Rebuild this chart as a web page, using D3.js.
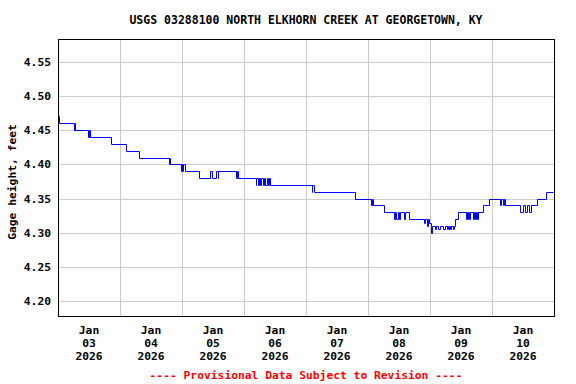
<!DOCTYPE html>
<html>
<head>
<meta charset="utf-8">
<script src="https://cdn.jsdelivr.net/npm/d3@7"></script>
<style>
  body { margin: 0; background: #fff; }
  svg { display: block; }
  text { font-family: "DejaVu Sans Mono", "Liberation Mono", monospace; font-weight: bold; }
</style>
</head>
<body>
<div id="chart"></div>
<script>
// gage height readings (step changes)
var stamps = [
  "2026-01-03 00:00", "2026-01-03 00:30", "2026-01-03 06:15", "2026-01-03 06:30", "2026-01-03 06:45",
  "2026-01-03 11:30", "2026-01-03 12:00", "2026-01-03 12:15", "2026-01-03 20:30", "2026-01-04 02:30",
  "2026-01-04 07:15", "2026-01-04 19:00", "2026-01-04 19:15", "2026-01-04 19:30", "2026-01-04 23:30",
  "2026-01-04 23:45", "2026-01-05 00:00", "2026-01-05 00:30", "2026-01-05 01:15", "2026-01-05 06:45",
  "2026-01-05 11:00", "2026-01-05 11:30", "2026-01-05 13:15", "2026-01-05 13:45", "2026-01-05 14:00",
  "2026-01-05 21:00", "2026-01-05 21:15", "2026-01-05 21:45", "2026-01-06 04:30", "2026-01-06 04:45",
  "2026-01-06 05:15", "2026-01-06 05:45", "2026-01-06 06:15", "2026-01-06 06:45", "2026-01-06 07:15",
  "2026-01-06 07:45", "2026-01-06 08:15", "2026-01-06 08:45", "2026-01-06 09:15", "2026-01-06 09:30",
  "2026-01-06 10:00", "2026-01-07 02:15", "2026-01-07 02:30", "2026-01-07 03:00", "2026-01-07 19:00",
  "2026-01-08 01:15", "2026-01-08 01:30", "2026-01-08 01:45", "2026-01-08 06:00", "2026-01-08 10:00",
  "2026-01-08 10:30", "2026-01-08 11:00", "2026-01-08 11:30", "2026-01-08 12:00", "2026-01-08 12:30",
  "2026-01-08 14:00", "2026-01-08 14:30", "2026-01-08 16:00", "2026-01-08 21:45", "2026-01-08 22:15",
  "2026-01-08 22:45", "2026-01-08 23:15", "2026-01-08 23:30", "2026-01-09 00:15", "2026-01-09 00:30",
  "2026-01-09 00:45", "2026-01-09 01:45", "2026-01-09 02:30", "2026-01-09 03:15", "2026-01-09 04:00",
  "2026-01-09 05:00", "2026-01-09 05:45", "2026-01-09 06:30", "2026-01-09 07:00", "2026-01-09 07:15",
  "2026-01-09 07:45", "2026-01-09 08:00", "2026-01-09 08:15", "2026-01-09 08:45", "2026-01-09 09:15",
  "2026-01-09 09:30", "2026-01-09 10:45", "2026-01-09 13:45", "2026-01-09 14:00", "2026-01-09 14:15",
  "2026-01-09 14:45", "2026-01-09 15:00", "2026-01-09 15:30", "2026-01-09 16:30", "2026-01-09 16:45",
  "2026-01-09 17:00", "2026-01-09 17:30", "2026-01-09 17:45", "2026-01-09 18:15", "2026-01-09 18:30",
  "2026-01-09 18:45", "2026-01-09 20:30", "2026-01-09 22:45", "2026-01-10 03:00", "2026-01-10 03:30",
  "2026-01-10 04:15", "2026-01-10 04:30", "2026-01-10 05:00", "2026-01-10 11:00", "2026-01-10 12:00",
  "2026-01-10 12:45", "2026-01-10 13:30", "2026-01-10 14:15", "2026-01-10 15:00", "2026-01-10 17:15",
  "2026-01-10 21:00", "2026-01-10 23:45"
];
var gage = [
  4.47, 4.46, 4.45, 4.46, 4.45,
  4.44, 4.45, 4.44, 4.43, 4.42,
  4.41, 4.40, 4.41, 4.40, 4.39,
  4.40, 4.39, 4.40, 4.39, 4.38,
  4.39, 4.38, 4.39, 4.38, 4.39,
  4.38, 4.39, 4.38, 4.37, 4.38,
  4.37, 4.38, 4.37, 4.38, 4.37,
  4.38, 4.37, 4.38, 4.37, 4.38,
  4.37, 4.36, 4.37, 4.36, 4.35,
  4.34, 4.35, 4.34, 4.33, 4.32,
  4.33, 4.32, 4.33, 4.32, 4.33,
  4.32, 4.33, 4.32, 4.315, 4.32,
  4.31, 4.32, 4.315, 4.31, 4.30,
  4.31, 4.305, 4.31, 4.305, 4.31,
  4.305, 4.31, 4.305, 4.31, 4.305,
  4.31, 4.305, 4.31, 4.305, 4.31,
  4.32, 4.33, 4.32, 4.33, 4.32,
  4.33, 4.32, 4.33, 4.32, 4.33,
  4.32, 4.33, 4.32, 4.33, 4.32,
  4.33, 4.34, 4.35, 4.34, 4.35,
  4.34, 4.35, 4.34, 4.33, 4.34,
  4.33, 4.34, 4.33, 4.34, 4.35,
  4.36, 4.36
];

var yTicks = [4.20, 4.25, 4.30, 4.35, 4.40, 4.45, 4.50, 4.55];
var dayLabels = ["03", "04", "05", "06", "07", "08", "09", "10"];
var monthLabel = "Jan",
    yearLabel = "2026";
var title = "USGS 03288100 NORTH ELKHORN CREEK AT GEORGETOWN, KY",
    yTitle = "Gage height, feet",
    footer = "---- Provisional Data Subject to Revision ----";

var width = 576, height = 384,
    plotLeft = 58, plotRight = 554, plotTop = 39, plotBottom = 316;

var parse = d3.timeParse("%Y-%m-%d %H:%M");
var data = stamps.map(function(s, i) { return {t: parse(s), v: gage[i]}; });

var t0 = parse("2026-01-03 00:00"),
    t1 = parse("2026-01-11 00:00");

var xScale = d3.scaleTime().domain([t0, t1]).range([plotLeft, plotRight]),
    yScale = d3.scaleLinear().domain([4.1785, 4.5832]).range([plotBottom, plotTop]);

var svg = d3.select("#chart").append("svg")
    .attr("width", width)
    .attr("height", height);

// snap to pixel centres so 1px lines stay sharp
var crisp = function(v) { return Math.round(v) + 0.5; };

// grid
var days = d3.timeDay.range(d3.timeDay.offset(t0, 1), t1);
svg.append("g").selectAll("line")
  .data(days)
  .enter().append("line")
  .attr("x1", function(d) { return crisp(xScale(d)); })
  .attr("x2", function(d) { return crisp(xScale(d)); })
  .attr("y1", plotTop)
  .attr("y2", plotBottom)
  .attr("stroke", "#cccccc")
  .attr("stroke-width", 1);

svg.append("g").selectAll("line")
  .data(yTicks)
  .enter().append("line")
  .attr("x1", plotLeft)
  .attr("x2", plotRight)
  .attr("y1", function(d) { return crisp(yScale(d)); })
  .attr("y2", function(d) { return crisp(yScale(d)); })
  .attr("stroke", "#cccccc")
  .attr("stroke-width", 1);

// data line
var line = d3.line()
    .x(function(d) { return crisp(xScale(d.t)); })
    .y(function(d) { return crisp(yScale(d.v)); })
    .curve(d3.curveStepAfter);

svg.append("path")
  .datum(data)
  .attr("d", line)
  .attr("fill", "none")
  .attr("stroke", "#0000ff")
  .attr("stroke-width", 1);

// frame
svg.append("rect")
  .attr("x", plotLeft + 0.5)
  .attr("y", plotTop + 0.5)
  .attr("width", plotRight - plotLeft)
  .attr("height", plotBottom - plotTop)
  .attr("fill", "none")
  .attr("stroke", "#000")
  .attr("stroke-width", 1);

// y tick labels
svg.append("g").selectAll("text")
  .data(yTicks)
  .enter().append("text")
  .attr("x", 51)
  .attr("y", function(d) { return yScale(d); })
  .attr("dy", "0.35em")
  .attr("text-anchor", "end")
  .attr("font-size", "11.3px")
  .text(function(d) { return d3.format(".2f")(d); });

// x tick labels, centred on noon of each day
var noons = d3.timeDay.range(t0, t1).map(function(d) { return d3.timeHour.offset(d, 12); });
var xl = svg.append("g").selectAll("text")
  .data(noons)
  .enter().append("text")
  .attr("text-anchor", "middle")
  .attr("font-size", "11.3px");
xl.append("tspan")
  .attr("x", function(d) { return xScale(d); })
  .attr("y", 334)
  .text(monthLabel);
xl.append("tspan")
  .attr("x", function(d) { return xScale(d); })
  .attr("y", 347)
  .text(function(d, i) { return dayLabels[i]; });
xl.append("tspan")
  .attr("x", function(d) { return xScale(d); })
  .attr("y", 360)
  .text(yearLabel);

// titles
svg.append("text")
  .attr("x", (plotLeft + plotRight) / 2)
  .attr("y", 24)
  .attr("text-anchor", "middle")
  .attr("font-size", "11.5px")
  .text(title);

svg.append("text")
  .attr("transform", "translate(16,182) rotate(-90)")
  .attr("text-anchor", "middle")
  .attr("font-size", "11.3px")
  .text(yTitle);

svg.append("text")
  .attr("x", (plotLeft + plotRight) / 2)
  .attr("y", 379)
  .attr("text-anchor", "middle")
  .attr("font-size", "11.3px")
  .attr("fill", "#ff0000")
  .text(footer);
</script>
</body>
</html>
